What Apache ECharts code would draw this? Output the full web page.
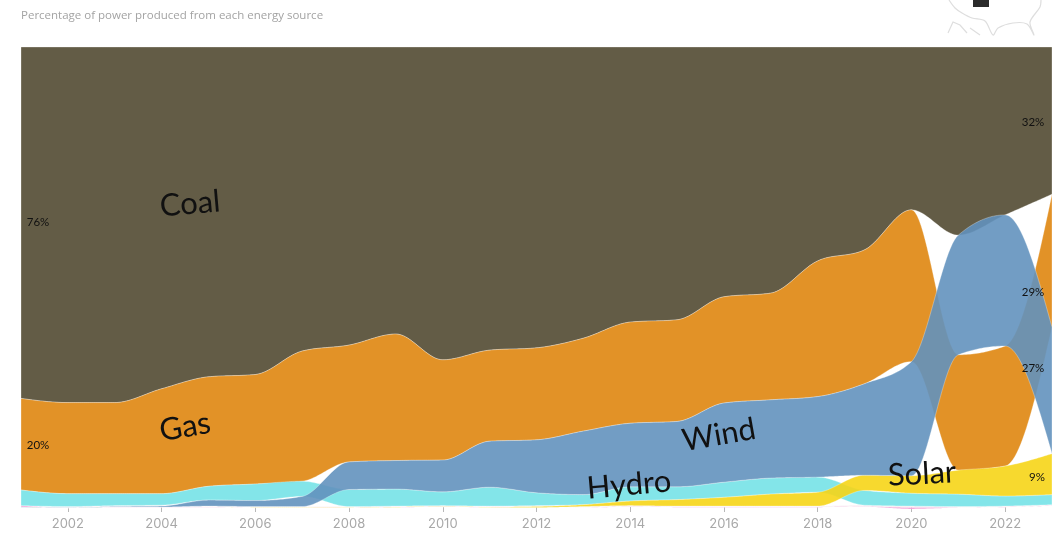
<!DOCTYPE html>
<html>
<head>
<meta charset="utf-8">
<style>
  html, body { margin: 0; padding: 0; background: #fff; }
  #chart { width: 1058px; height: 534px; }
</style>
</head>
<body>
<div id="chart"></div>
<script src="https://cdn.jsdelivr.net/npm/echarts@6/dist/echarts.min.js"></script>
<script>
// share of power per year
var years = ['2001','2002','2003','2004','2005','2006','2007','2008','2009','2010','2011','2012','2013','2014','2015','2016','2017','2018','2019','2020','2021','2022','2023'];
var coal  = [76.4,77.3,77.3,74.3,71.7,71.2,66.1,64.8,62.4,68.0,65.9,65.4,63.3,59.8,59.3,54.3,53.5,46.5,44.1,35.4,40.9,36.5,32.0];
var gas   = [19.9,19.8,19.8,22.8,23.8,23.8,28.3,25.4,27.5,21.8,19.8,20.0,20.2,22.0,22.1,23.1,23.2,29.5,29.1,33.0,25.1,26.1,28.9];
var wind  = [0.05,0.05,0.1,0.2,1.3,1.3,2.2,6.0,6.2,6.9,10.0,11.5,13.8,13.8,14.2,17.2,17.0,17.5,19.9,24.8,26.0,28.5,27.5];
var hydro = [3.4,2.8,2.6,2.5,3.0,3.6,3.3,3.7,3.7,3.0,4.1,2.8,2.2,3.1,2.8,3.3,3.5,3.3,3.2,2.8,2.7,2.2,2.2];
var solar = [0.01,0.01,0.01,0.01,0.01,0.01,0.02,0.04,0.04,0.05,0.05,0.2,0.4,1.0,1.4,1.9,2.6,3.0,3.3,3.8,5.2,6.5,8.9];
var oil   = [0.05,0.2,0.2,0.2,0.2,0.2,0.2,0.2,0.2,0.2,0.2,0.2,0.2,0.2,0.2,0.2,0.2,0.2,0.3,0.31,0.2,0.2,0.2];
var other = [0.3,0.03,0.03,0.03,0.03,0.03,0.03,0.03,0.03,0.03,0.03,0.03,0.03,0.03,0.03,0.03,0.03,0.03,0.05,0.3,0.03,0.03,0.03];

var sources = [
  { name: 'Coal', values: coal, color: '#524a32' },
  { name: 'Gas', values: gas, color: '#df8610' },
  { name: 'Oil', values: oil, color: '#f5eaee' },
  { name: 'Other', values: other, color: '#ee8fcf' },
  { name: 'Hydro', values: hydro, color: '#75e2e7' },
  { name: 'Solar', values: solar, color: '#f6d517' },
  { name: 'Wind', values: wind, color: '#6392be' }
];

// each year the biggest source sits on top, going down from 100
function bandEdges(source) {
  var top = [], bottom = [];
  years.forEach(function (y, i) {
    var ranked = sources.slice().sort(function (a, b) { return b.values[i] - a.values[i]; });
    var level = 100;
    ranked.forEach(function (s) {
      if (s === source) { top.push(level); bottom.push(level - s.values[i]); }
      level -= s.values[i];
    });
  });
  return { top: top, bottom: bottom };
}

// same as d3 curveMonotoneX, sampled to points
function monotone(pts) {
  var n = pts.length, slopes = [], tans = [], out = [];
  for (var i = 0; i < n - 1; i++) {
    slopes.push((pts[i + 1][1] - pts[i][1]) / (pts[i + 1][0] - pts[i][0]));
  }
  for (var j = 1; j < n - 1; j++) {
    var a = slopes[j - 1], b = slopes[j];
    var h0 = pts[j][0] - pts[j - 1][0], h1 = pts[j + 1][0] - pts[j][0];
    var p = (a * h1 + b * h0) / (h0 + h1);
    var sign = (a < 0 ? -1 : 1) + (b < 0 ? -1 : 1);
    tans[j] = sign * Math.min(Math.abs(a), Math.abs(b), 0.5 * Math.abs(p)) || 0;
  }
  tans[0] = (3 * slopes[0] - tans[1]) / 2;
  tans[n - 1] = (3 * slopes[n - 2] - tans[n - 2]) / 2;
  for (var k = 0; k < n - 1; k++) {
    var x0 = pts[k][0], y0 = pts[k][1], x1 = pts[k + 1][0], y1 = pts[k + 1][1];
    var dx = (x1 - x0) / 3;
    var c0y = y0 + dx * tans[k], c1y = y1 - dx * tans[k + 1];
    for (var s = 0; s < 24; s++) {
      var t = s / 24, u = 1 - t;
      out.push([
        u * u * u * x0 + 3 * u * u * t * (x0 + dx) + 3 * u * t * t * (x1 - dx) + t * t * t * x1,
        u * u * u * y0 + 3 * u * u * t * c0y + 3 * u * t * t * c1y + t * t * t * y1
      ]);
    }
  }
  out.push(pts[n - 1]);
  return out;
}

function bandSeries(source) {
  var edges = bandEdges(source);
  return {
    type: 'custom',
    name: source.name,
    coordinateSystem: 'cartesian2d',
    clip: false,
    silent: true,
    data: [0],
    renderItem: function (params, api) {
      var upper = edges.top.map(function (v, i) { return api.coord([i, v]); });
      var lower = edges.bottom.map(function (v, i) { return api.coord([i, v]); });
      return {
        type: 'polygon',
        shape: { points: monotone(upper).concat(monotone(lower).reverse()) },
        style: { fill: source.color, opacity: 0.9, stroke: 'rgba(255,255,255,0.4)', lineWidth: 0.8 }
      };
    }
  };
}

function label(text, x, y, size, rot) {
  return {
    type: 'text',
    z: 100,
    x: x,
    y: y,
    rotation: (rot || 0) * Math.PI / 180,
    style: {
      text: text,
      font: size + 'px "Lato", sans-serif',
      fill: '#111',
      align: 'center',
      verticalAlign: 'middle'
    }
  };
}

var mapLine = { stroke: '#dedede', fill: 'none', lineWidth: 1.2 };

var chart = echarts.init(document.getElementById('chart'));
chart.setOption({
  animation: false,
  title: {
    text: 'Percentage of power produced from each energy source',
    left: 16,
    top: 5,
    textStyle: { color: '#a3a3a3', fontSize: 11.5, fontWeight: 'normal', fontFamily: '"Open Sans", sans-serif' }
  },
  grid: { left: 21, right: 6, top: 47, bottom: 27 },
  xAxis: {
    type: 'category',
    boundaryGap: false,
    data: years,
    offset: 3,
    axisLine: { show: true, lineStyle: { color: 'rgba(0,0,0,0)' } },
    axisTick: {
      show: true,
      length: 5,
      lineStyle: { color: '#b8b8b8' },
      interval: function (i) { return i % 2 === 1; }
    },
    axisLabel: {
      color: '#a8a8a8',
      fontSize: 13,
      margin: 8,
      fontFamily: '"Inter", sans-serif',
      interval: function (i) { return i % 2 === 1; }
    }
  },
  yAxis: { type: 'value', min: 0, max: 100, show: false },
  series: sources.map(bandSeries),
  graphic: [
    label('Coal', 190, 204, 31, 5),
    label('Gas', 185, 427, 31, 10),
    label('Wind', 719, 435, 31, 10),
    label('Hydro', 629, 485, 31, 5),
    label('Solar', 922, 474, 31, 3),
    label('76%', 38, 222, 11.5),
    label('20%', 38, 445, 11.5),
    label('32%', 1033, 122, 11.5),
    label('29%', 1033, 292, 11.5),
    label('27%', 1033, 368, 11.5),
    label('9%', 1037, 477, 11.5),
    // little locator map, top right
    { type: 'polyline', shape: { smooth: 0.3, points: [[949,0],[955,8],[962,13],[972,18],[985,21],[993,35],[998,28],[1013,23],[1027,24],[1034,35],[1030,22],[1040,7],[1041,0]] }, style: mapLine },
    { type: 'polyline', shape: { points: [[948,33],[953,22],[960,25],[967,33]] }, style: mapLine },
    { type: 'polyline', shape: { points: [[970,28],[980,35]] }, style: mapLine },
    { type: 'rect', shape: { x: 973, y: 0, width: 16, height: 7 }, style: { fill: '#2b2b2b' } }
  ]
});
</script>
</body>
</html>
